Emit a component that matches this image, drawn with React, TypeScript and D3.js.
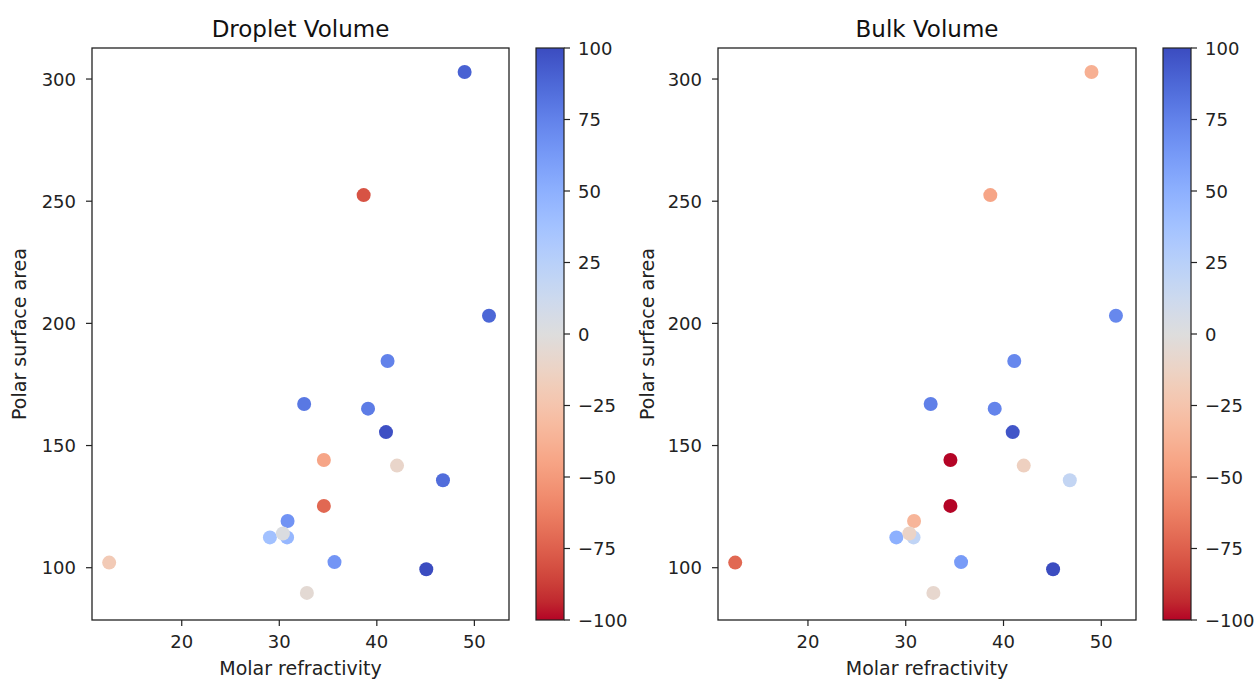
import React from "react";
import * as d3 from "d3";

// data
const molarRefractivity = [49.0, 38.65, 51.5, 41.1, 32.55, 39.1, 40.94, 34.57, 42.07, 46.78, 34.57, 30.85, 29.04, 30.8, 30.37, 12.56, 35.66, 45.07, 32.83];
const polarSurfaceArea = [302.9, 252.5, 203.1, 184.6, 167.0, 165.1, 155.5, 144.1, 141.8, 135.8, 125.3, 119.1, 112.4, 112.4, 114.0, 102.1, 102.3, 99.4, 89.7];
const dropletVolume = [90, -80, 88, 75, 80, 78, 98, -44, -10, 85, -72, 66, 38, 45, 2, -20, 65, 100, -5];
const bulkVolume = [-38, -44, 72, 72, 76, 74, 96, -100, -15, 18, -100, -35, 50, 20, -12, -72, 62, 100, -8];
const xTicks = [20, 30, 40, 50];
const yTicks = [100, 150, 200, 250, 300];
const cbTicks = [-100, -75, -50, -25, 0, 25, 50, 75, 100];

// matplotlib coolwarm
const coolwarmStops = [
  [59, 76, 192], [68, 90, 204], [77, 104, 215], [87, 117, 225], [98, 130, 234], [108, 142, 241],
  [119, 154, 247], [130, 165, 251], [141, 176, 254], [152, 185, 255], [163, 194, 255], [174, 201, 253],
  [184, 208, 249], [194, 213, 244], [204, 217, 238], [213, 219, 230], [221, 221, 221], [229, 216, 209],
  [236, 211, 197], [241, 204, 184], [245, 196, 173], [247, 187, 160], [247, 177, 148], [247, 166, 135],
  [244, 154, 123], [241, 141, 111], [236, 127, 99], [229, 112, 88], [222, 96, 77], [213, 80, 66],
  [203, 62, 56], [192, 40, 47], [180, 4, 38],
].map(([r, g, b]) => d3.rgb(r, g, b).formatHex());
const coolwarm = d3.interpolateRgbBasis(coolwarmStops);
// colorbar is reversed: +100 blue, -100 red
const colorOf = (v: number) => coolwarm((100 - v) / 200);

const FONT = "DejaVu Sans, sans-serif";
const W = 1257;
const H = 680;
const top = 48;
const bottom = 620;

const panels = [
  { title: "Droplet Volume", values: dropletVolume, left: 92, right: 509, cbLeft: 536, yLabelX: 19, id: "g1" },
  { title: "Bulk Volume", values: bulkVolume, left: 718, right: 1136, cbLeft: 1163, yLabelX: 647, id: "g2" },
];

const Panel = ({ p }: { p: (typeof panels)[number] }) => {
  const x = d3.scaleLinear().domain([10.8, 53.55]).range([p.left, p.right]);
  const y = d3.scaleLinear().domain([78.6, 312.7]).range([bottom, top]);
  const cb = d3.scaleLinear().domain([-100, 100]).range([bottom, top]);
  const cbW = 28;
  const order = d3.range(molarRefractivity.length);
  return (
    <g>
      <text x={(p.left + p.right) / 2} y={36.5} textAnchor="middle" fontSize={23} fill="#111">
        {p.title}
      </text>
      {order.map((i) => (
        <circle key={i} cx={x(molarRefractivity[i])} cy={y(polarSurfaceArea[i])} r={7} fill={colorOf(p.values[i])} />
      ))}
      <rect x={p.left} y={top} width={p.right - p.left} height={bottom - top} fill="none" stroke="#222" strokeWidth={1.3} />
      {xTicks.map((t) => (
        <g key={t}>
          <line x1={x(t)} x2={x(t)} y1={bottom} y2={bottom + 6} stroke="#222" strokeWidth={1.2} />
          <text x={x(t)} y={648} textAnchor="middle" fontSize={18} fill="#222">{t}</text>
        </g>
      ))}
      {yTicks.map((t) => (
        <g key={t}>
          <line x1={p.left - 6} x2={p.left} y1={y(t)} y2={y(t)} stroke="#222" strokeWidth={1.2} />
          <text x={p.left - 16} y={y(t) + 6.5} textAnchor="end" fontSize={18} fill="#222">{t}</text>
        </g>
      ))}
      <text x={(p.left + p.right) / 2} y={675} textAnchor="middle" fontSize={19} fill="#222">
        Molar refractivity
      </text>
      <text
        transform={`translate(${p.yLabelX},${(top + bottom) / 2}) rotate(-90)`}
        dy="0.35em"
        textAnchor="middle"
        fontSize={19}
        fill="#222"
      >
        Polar surface area
      </text>
      {/* colorbar */}
      <defs>
        <linearGradient id={p.id} x1="0" y1="0" x2="0" y2="1">
          {coolwarmStops.map((c, i) => (
            <stop key={i} offset={i / (coolwarmStops.length - 1)} stopColor={c} />
          ))}
        </linearGradient>
      </defs>
      <rect x={p.cbLeft} y={cb(100)} width={cbW} height={cb(-100) - cb(100)} fill={`url(#${p.id})`} stroke="#222" strokeWidth={1.2} />
      {cbTicks.map((t) => (
        <g key={t}>
          <line x1={p.cbLeft + cbW} x2={p.cbLeft + cbW + 6} y1={cb(t)} y2={cb(t)} stroke="#222" strokeWidth={1.2} />
          <text x={p.cbLeft + cbW + 14} y={cb(t) + 6.5} fontSize={18} fill="#222">
            {t < 0 ? `\u2212${-t}` : t}
          </text>
        </g>
      ))}
    </g>
  );
};

export default function App() {
  return (
    <svg width={W} height={H} style={{ position: "absolute", left: 0, top: 0, background: "#fff" }} fontFamily={FONT}>
      <rect width={W} height={H} fill="#fff" />
      {panels.map((p) => (
        <Panel key={p.id} p={p} />
      ))}
    </svg>
  );
}
